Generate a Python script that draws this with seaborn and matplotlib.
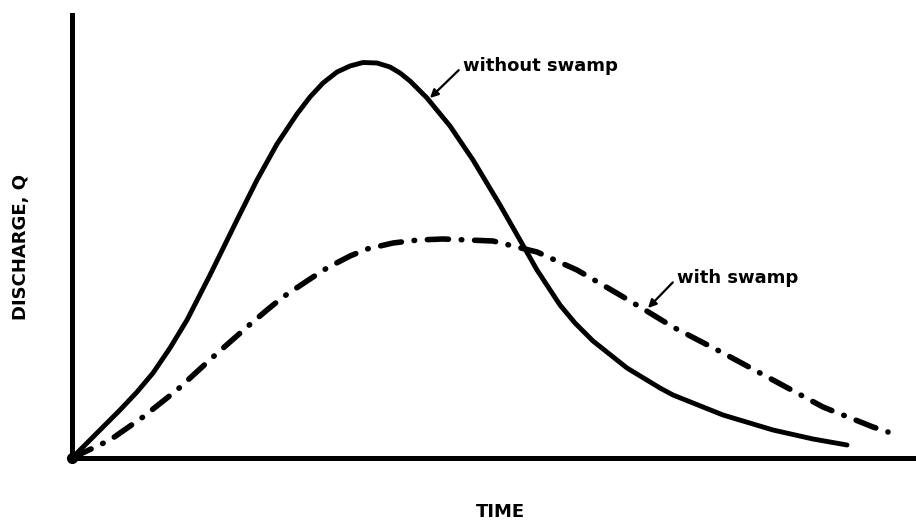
import numpy as np
import pandas as pd
from matplotlib import pyplot as plt
import seaborn as sns

# hydrograph values (arbitrary units)
time_without = [0, 0.8, 2.8, 4.8, 6.5, 8.1, 9.8, 11.5, 13.8, 16.5, 18.5, 20.5, 22.5,
                23.8, 25.1, 26.5, 27.8, 29.1, 30.5, 31.8, 32.8, 33.8, 35.5, 37.8, 40.1,
                42.8, 44.8, 46.5, 48.8, 50.3, 52.1, 55.5, 58.8, 60.1, 65.1, 70.1, 74.1,
                77.5]
q_without = [0, 0.8, 2.8, 4.8, 6.6, 8.5, 11.0, 13.8, 18.3, 23.8, 27.8, 31.4, 34.4,
             36.1, 37.5, 38.6, 39.2, 39.55, 39.5, 39.1, 38.5, 37.7, 36.0, 33.2, 29.8,
             25.3, 21.8, 18.8, 15.3, 13.5, 11.7, 9.0, 7.0, 6.3, 4.3, 2.8, 1.9, 1.3]

time_with = [0, 3.8, 7.1, 10.5, 14.1, 17.5, 19.5, 21.1, 23.8, 25.5, 27.8, 29.5, 32.1,
             34.6, 37.1, 42.1, 46.5, 50.5, 54.8, 57.8, 60.1, 65.1, 70.1, 75.1, 80.1, 81.6]
q_with = [0, 1.8, 4.1, 6.8, 10.1, 13.1, 14.8, 16.1, 17.9, 19.0, 20.2, 20.9, 21.5,
          21.8, 21.9, 21.7, 20.6, 18.8, 16.3, 14.5, 13.1, 10.5, 7.8, 5.1, 3.1, 2.6]

sns.set_style('white')

fig = plt.figure(figsize=(9.16, 5.22), dpi=100)
ax = fig.add_axes([72 / 916, 64 / 522, 844 / 916, 443 / 522])

sns.lineplot(x=time_without, y=q_without, ax=ax, color='black', lw=3.5, sort=False,
             estimator=None)
sns.lineplot(x=time_with, y=q_with, ax=ax, color='black', lw=4, sort=False,
             estimator=None)
for ln in ax.get_lines():
    ln.set_solid_joinstyle('round')
    ln.set_solid_capstyle('round')
line = ax.get_lines()[-1]
line.set_dashes((3.8, 2.3, 0.1, 2.3))
line.set_dash_capstyle('round')

ax.set_xlim(0, 84.4)
ax.set_ylim(0, 44.3)
ax.set_xticks([])
ax.set_yticks([])
for side in ['top', 'right']:
    ax.spines[side].set_visible(False)
for side in ['left', 'bottom']:
    ax.spines[side].set_linewidth(3.6)
    ax.spines[side].set_color('black')
ax.plot([0], [0], 'o', color='black', ms=7, clip_on=False)

ax.annotate('without swamp', xy=(35.8, 36.0), xytext=(39.1, 39.2),
            fontsize=13, fontweight='bold', color='black', ha='left', va='center',
            arrowprops=dict(arrowstyle='-|>', color='black', lw=1.6,
                            mutation_scale=12, relpos=(0, 0.5), shrinkA=1, shrinkB=0))
ax.annotate('with swamp', xy=(57.6, 15.0), xytext=(60.5, 18.0),
            fontsize=13, fontweight='bold', color='black', ha='left', va='center',
            arrowprops=dict(arrowstyle='-|>', color='black', lw=1.6,
                            mutation_scale=12, relpos=(0, 0.5), shrinkA=1, shrinkB=0))

fig.text(500 / 916, 1 - 512 / 522, 'TIME', fontsize=13, fontweight='bold',
         color='black', ha='center', va='center')
fig.text(21 / 916, 1 - 247 / 522, 'DISCHARGE, Q', fontsize=13, fontweight='bold',
         color='black', ha='center', va='center', rotation=90)

fig.savefig('out.png', dpi=100)
